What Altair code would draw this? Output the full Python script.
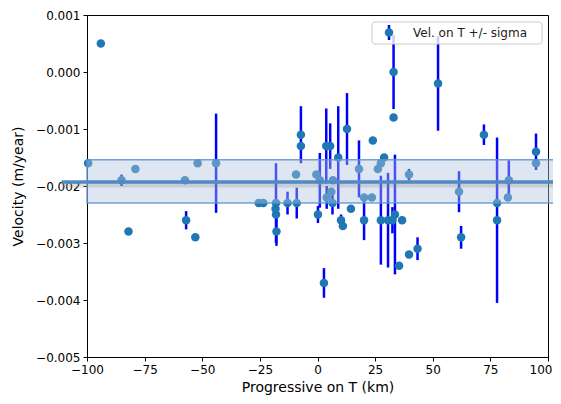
import altair as alt
import pandas as pd

# Data
km = [-99.5, -94, -85, -82, -79, -57.5, -57, -53, -52, -44,
      -25.5, -23.5, -18, -18.2, -18, -17.8, -13, -9, -9.3, -7.2,
      -7.2, -0.5, 0.2, 1, 2.8, 3.8, 5.5, 4, 6, 6.5,
      6.7, 9, 10.2, 11, 12.8, 14.5, 18, 20.2, 20.2, 23.6,
      24, 26.2, 27.5, 28.9, 27.5, 30.6, 32.5, 33, 33, 33.6,
      35.4, 36.7, 39.7, 39.7, 43.4, 52.3, 61.4, 62.3, 72.2, 77.9,
      77.9, 82.6, 83, 94.8, 94.8]
vel = [-0.0016, 0.0005, -0.0019, -0.0028, -0.0017, -0.0019, -0.0026, -0.0029, -0.0016, -0.0016,
       -0.0023, -0.0023, -0.0023, -0.0024, -0.0025, -0.0028, -0.0023, -0.0023, -0.0018, -0.0011,
       -0.0013, -0.0018, -0.0025, -0.0019, -0.0037, -0.0013, -0.0013, -0.0022, -0.0021, -0.0023,
       -0.0019, -0.0015, -0.0026, -0.0027, -0.0010, -0.0024, -0.0017, -0.0022, -0.0026, -0.0022,
       -0.0012, -0.0017, -0.0016, -0.0015, -0.0026, -0.0026, -0.0026, 0.0000, -0.0008, -0.0025,
       -0.0034, -0.0026, -0.0018, -0.0032, -0.0031, -0.0002, -0.0021, -0.0029, -0.0011, -0.0023,
       -0.0026, -0.0022, -0.0019, -0.0014, -0.0016]
sigma = [0, 0, 0.0001, 0, 0, 0, 0.00016, 0, 0, 0.00087,
         0, 0, 0.0007, 0, 0, 0.00025, 0.0002, 0.00027, 0, 0.0005,
         0, 0, 0.00015, 0.00048, 0.00026, 0.00066, 0.0004, 0.0002, 0, 0.0002,
         0, 0.0009, 0.0001, 0, 0.00063, 0, 0.0005, 0, 0.00035, 0,
         0, 0, 0, 0, 0.00078, 0.00083, 0.00023, 0.00065, 0, 0.00105,
         0, 0, 0.0001, 0, 0.0002, 0.00083, 0.00036, 0.0002, 0.00018, 0,
         0.00145, 0, 0.00035, 0.00032, 0]

mean_vel = -0.00193
band_top = -0.00154
band_bottom = -0.0023
band_x = [-100, 106]
mean_x = [-111, 106]

x_ticks = [-100, -75, -50, -25, 0, 25, 50, 75, 100]
y_ticks = [-0.005, -0.004, -0.003, -0.002, -0.001, 0.0, 0.001]
legend_label = "Vel. on T +/- sigma"

df = pd.DataFrame({"km": km, "vel": vel, "sigma": sigma})
df["lo"] = df["vel"] - df["sigma"]
df["hi"] = df["vel"] + df["sigma"]
err_df = df[df["sigma"] > 0]

band_df = pd.DataFrame({"x": [band_x[0]], "x2": [band_x[1]], "y": [band_top], "y2": [band_bottom]})
mean_df = pd.DataFrame({"x": [mean_x[0]], "x2": [mean_x[1]], "y": [mean_vel]})

W, H = 461, 342
xs = alt.Scale(domain=[-100, 100], nice=False, zero=False, padding=0)
ys = alt.Scale(domain=[-0.005, 0.001], nice=False, zero=False, padding=0)

last_x = "datum.value === 100"
xax = alt.Axis(values=x_ticks, format="d", title="Progressive on T (km)", grid=False,
               labelFlush=False,
               labelAlign={"condition": {"test": last_x, "value": "right"}, "value": "center"},
               labelOffset={"condition": {"test": last_x, "value": 4}, "value": 0})
yax = alt.Axis(values=y_ticks, format=".3f", title="Velocity (m/year)", grid=False,
               labelFlush=False)

bars = alt.Chart(err_df).mark_rule(color="#0000ff", strokeWidth=2.5).encode(
    x=alt.X("km:Q", scale=xs, axis=xax),
    y=alt.Y("lo:Q", scale=ys, axis=yax),
    y2="hi:Q",
)

pts = alt.Chart(df).mark_circle(color="#1f77b4", opacity=1, size=72).encode(
    x=alt.X("km:Q", scale=xs),
    y=alt.Y("vel:Q", scale=ys),
)

band = alt.Chart(band_df).mark_rect(
    fill="#b0c4de", fillOpacity=0.42, stroke="#5b93d0", strokeOpacity=0.85,
    strokeWidth=1.5, clip=False
).encode(
    x=alt.X("x:Q", scale=xs), x2="x2:Q",
    y=alt.Y("y:Q", scale=ys), y2="y2:Q",
)

shadow = alt.Chart(mean_df).mark_rule(
    color="#888888", strokeWidth=5, opacity=0.25, yOffset=3, clip=False
).encode(
    x=alt.X("x:Q", scale=xs), x2="x2:Q", y=alt.Y("y:Q", scale=ys)
)

mean_line = alt.Chart(mean_df).mark_rule(
    color="#4f8ac4", strokeWidth=3.5, clip=False
).encode(
    x=alt.X("x:Q", scale=xs), x2="x2:Q", y=alt.Y("y:Q", scale=ys)
)

leg_df = pd.DataFrame({"label": [legend_label]})
leg_box = alt.Chart(leg_df).mark_rect(
    fill="white", fillOpacity=0.8, stroke="#cccccc", strokeWidth=1, cornerRadius=3
).encode(x=alt.value(285), x2=alt.value(455), y=alt.value(7), y2=alt.value(29))
leg_bar = alt.Chart(leg_df).mark_rule(color="#0000ff", strokeWidth=2.5).encode(
    x=alt.value(302), y=alt.value(10), y2=alt.value(25))
leg_pt = alt.Chart(leg_df).mark_circle(color="#1f77b4", opacity=1, size=72).encode(
    x=alt.value(302), y=alt.value(17.5))
leg_txt = alt.Chart(leg_df).mark_text(
    align="left", baseline="middle", font="DejaVu Sans", fontSize=12, color="#222222"
).encode(x=alt.value(326), y=alt.value(17.5), text="label:N")

chart = alt.layer(
    bars, pts, band, shadow, mean_line, leg_box, leg_bar, leg_pt, leg_txt
).properties(
    width=W, height=H,
    autosize=alt.AutoSizeParams(type="none"),
    padding={"left": 79, "top": 7, "right": 5, "bottom": 39},
).configure_view(
    stroke="#000000", strokeWidth=1
).configure_axis(
    labelFont="DejaVu Sans", titleFont="DejaVu Sans",
    labelFontSize=12, titleFontSize=14, titleFontWeight="normal",
    labelColor="#000000", titleColor="#000000",
    domainColor="#000000", tickColor="#000000", tickSize=4,
    labelPadding=3,
).configure_axisX(titlePadding=5).configure_axisY(titlePadding=10)

chart.save("out.html", embed_options={"renderer": "svg", "actions": False})
